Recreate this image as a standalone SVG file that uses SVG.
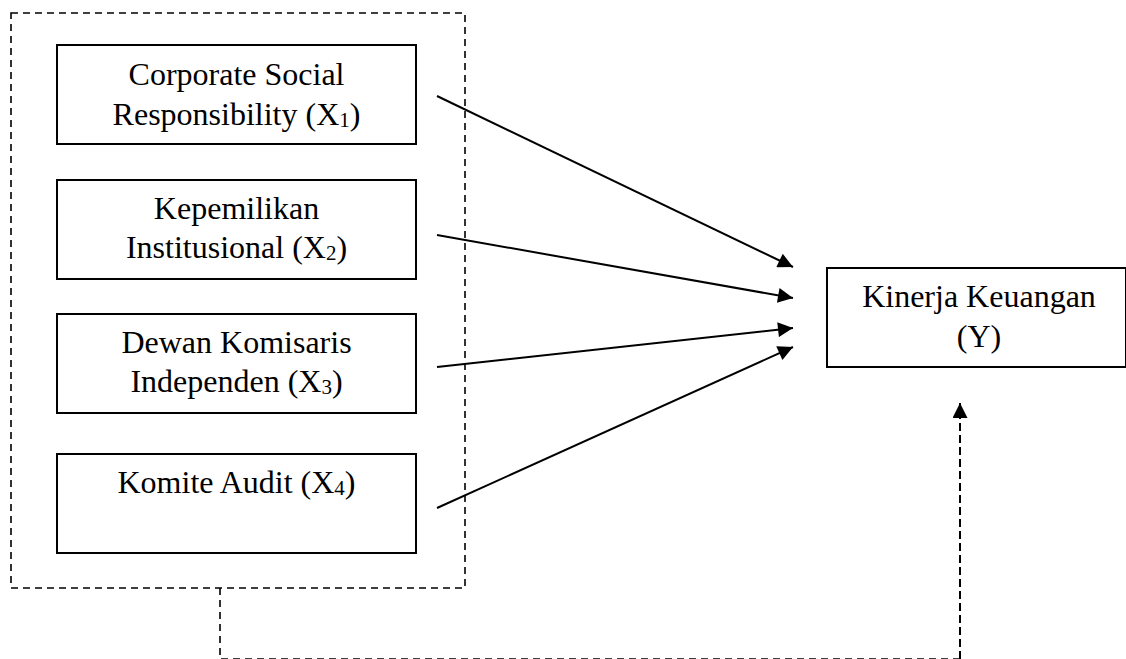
<svg xmlns="http://www.w3.org/2000/svg" width="1126" height="659" viewBox="0 0 1126 659">
<defs>
<style>
.box{fill:#fff;stroke:#000;stroke-width:2}
.t{font-family:"Liberation Serif","Times New Roman",serif;font-size:32px;fill:#000;text-anchor:middle}
.sub{font-size:21px}
.dash{fill:none;stroke:#000;stroke-width:1.6;stroke-dasharray:7 5}
.arr{fill:none;stroke:#000;stroke-width:2;marker-end:url(#ah)}
</style>
<marker id="ah" viewBox="0 0 10 10" refX="10" refY="5" markerWidth="8.5" markerHeight="7.5" markerUnits="strokeWidth" orient="auto">
<path d="M0,0 L10,5 L0,10 Z" fill="#000"/>
</marker>
<marker id="ah2" viewBox="0 0 10 10" refX="10" refY="5" markerWidth="7.5" markerHeight="7.5" markerUnits="strokeWidth" orient="auto">
<path d="M0,0 L10,5 L0,10 Z" fill="#000"/>
</marker>
</defs>
<rect width="1126" height="659" fill="#fff"/>
<g id="group-x">
<rect class="dash" x="11" y="13" width="454" height="575"/>
</g>
<g id="x1">
<rect class="box" x="57" y="45" width="359" height="99"/>
<text class="t" x="236.5" y="85">Corporate Social</text>
<text class="t" x="236.5" y="125">Responsibility (X<tspan class="sub" dy="2">1</tspan><tspan dy="-2">)</tspan></text>
</g>
<g id="x2">
<rect class="box" x="57" y="180" width="359" height="99"/>
<text class="t" x="236.5" y="219">Kepemilikan</text>
<text class="t" x="236.5" y="258">Institusional (X<tspan class="sub" dy="2">2</tspan><tspan dy="-2">)</tspan></text>
</g>
<g id="x3">
<rect class="box" x="57" y="314" width="359" height="99"/>
<text class="t" x="236.5" y="353">Dewan Komisaris</text>
<text class="t" x="236.5" y="392">Independen (X<tspan class="sub" dy="2">3</tspan><tspan dy="-2">)</tspan></text>
</g>
<g id="x4">
<rect class="box" x="57" y="454" width="359" height="99"/>
<text class="t" x="236.5" y="493">Komite Audit (X<tspan class="sub" dy="2">4</tspan><tspan dy="-2">)</tspan></text>
</g>
<g id="y">
<rect class="box" x="827" y="268" width="299" height="99"/>
<text class="t" x="979" y="307">Kinerja Keuangan</text>
<text class="t" x="979" y="347">(Y)</text>
</g>
<g id="connectors">
<line class="arr" x1="437" y1="96" x2="793" y2="267"/>
<line class="arr" x1="437" y1="235" x2="793" y2="298"/>
<line class="arr" x1="437" y1="367" x2="793" y2="328"/>
<line class="arr" x1="437" y1="508" x2="793" y2="347"/>
<path d="M220,588 V659 H960" fill="none" stroke="#000" stroke-width="1.6" stroke-dasharray="7 5"/>
<path d="M960,659 V403" fill="none" stroke="#000" stroke-width="2" stroke-dasharray="8 4" marker-end="url(#ah2)"/>
</g>
</svg>
